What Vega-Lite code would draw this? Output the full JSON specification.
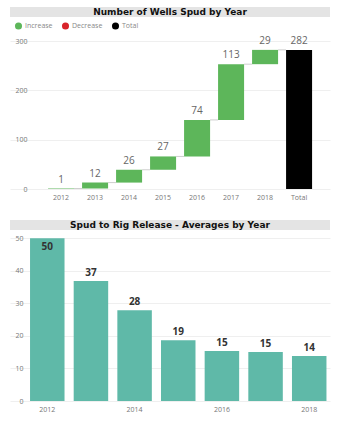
{
  "$schema": "https://vega.github.io/schema/vega-lite/v6.json",
  "padding": {"left": 10, "top": 7, "right": 5, "bottom": 5},
  "background": "white",
  "columns": 1,
  "align": "none",
  "spacing": 4,
  "resolve": {"legend": {"color": "independent"}},
  "config": {
    "font": "Open Sans",
    "view": {"stroke": null},
    "axis": {"labelFont": "Open Sans", "labelFontSize": 7, "labelColor": "#777", "domain": false, "ticks": false, "title": null, "gridColor": "#efefef"}
  },
  "concat": [
    {
      "width": 320,
      "height": 10,
      "view": {"fill": "#e4e4e4", "stroke": null},
      "data": {"values": [{"t": "Number of Wells Spud by Year"}]},
      "mark": {"type": "text", "font": "DejaVu Sans", "fontWeight": "bold", "fontSize": 9, "color": "#111", "baseline": "middle"},
      "encoding": {"text": {"field": "t"}}
    },
    {
      "width": 320,
      "height": 148,
      "data": {"values": [
        {"year": "2012", "amount": 1, "start": 0, "end": 1, "kind": "Increase", "next": "2013"},
        {"year": "2013", "amount": 12, "start": 1, "end": 13, "kind": "Increase", "next": "2014"},
        {"year": "2014", "amount": 26, "start": 13, "end": 39, "kind": "Increase", "next": "2015"},
        {"year": "2015", "amount": 27, "start": 39, "end": 66, "kind": "Increase", "next": "2016"},
        {"year": "2016", "amount": 74, "start": 66, "end": 140, "kind": "Increase", "next": "2017"},
        {"year": "2017", "amount": 113, "start": 140, "end": 253, "kind": "Increase", "next": "2018"},
        {"year": "2018", "amount": 29, "start": 253, "end": 282, "kind": "Increase", "next": "Total"},
        {"year": "Total", "amount": 282, "start": 0, "end": 282, "kind": "Total", "next": null}
      ]},
      "encoding": {
        "x": {"field": "year", "type": "ordinal", "sort": null,
              "scale": {"paddingInner": 0.235, "paddingOuter": 0.8235, "align": 0.68},
              "axis": {"labelAngle": 0, "labelPadding": 4, "grid": false, "minExtent": 27, "maxExtent": 27}}
      },
      "layer": [
        {
          "transform": [{"filter": "datum.next != null"}],
          "mark": {"type": "rule", "color": "#cfcfcf", "strokeWidth": 1},
          "encoding": {
            "x": {"field": "year", "type": "ordinal", "sort": null, "bandPosition": 1},
            "x2": {"field": "next", "bandPosition": 0},
            "y": {"field": "end", "type": "quantitative", "scale": {"domain": [0, 300]},
                  "axis": {"values": [0, 100, 200, 300], "labelPadding": -17, "grid": true, "minExtent": 0, "maxExtent": 0}}
          }
        },
        {
          "mark": {"type": "bar"},
          "encoding": {
            "y": {"field": "start", "type": "quantitative", "scale": {"domain": [0, 300]},
                  "axis": {"values": [0, 100, 200, 300], "labelPadding": -17, "grid": true, "minExtent": 0, "maxExtent": 0}},
            "y2": {"field": "end"},
            "color": {"field": "kind", "type": "nominal",
                      "scale": {"domain": ["Increase", "Decrease", "Total"], "range": ["#5db65a", "#d8232a", "#000000"]},
                      "legend": {"title": null, "orient": "none", "legendX": 4, "legendY": -20, "direction": "horizontal",
                                 "symbolType": "circle", "symbolSize": 50, "labelFontSize": 7, "labelColor": "#888",
                                 "columnPadding": 8, "symbolOffset": 0, "labelOffset": 2, "padding": 0}}
          }
        },
        {
          "mark": {"type": "text", "baseline": "bottom", "dy": -4, "fontSize": 10, "color": "#666", "font": "Open Sans"},
          "encoding": {
            "y": {"field": "end", "type": "quantitative", "scale": {"domain": [0, 300]},
                  "axis": {"values": [0, 100, 200, 300], "labelPadding": -17, "grid": true, "minExtent": 0, "maxExtent": 0}},
            "text": {"field": "amount", "type": "quantitative"}
          }
        }
      ]
    },
    {
      "width": 320,
      "height": 10,
      "view": {"fill": "#e4e4e4", "stroke": null},
      "data": {"values": [{"t": "Spud to Rig Release - Averages by Year"}]},
      "mark": {"type": "text", "font": "DejaVu Sans", "fontWeight": "bold", "fontSize": 9, "color": "#111", "baseline": "middle"},
      "encoding": {"text": {"field": "t"}}
    },
    {
      "width": 320,
      "height": 163,
      "data": {"values": [
        {"year": "2012", "days": 49.9},
        {"year": "2013", "days": 36.8},
        {"year": "2014", "days": 27.8},
        {"year": "2015", "days": 18.6},
        {"year": "2016", "days": 15.3},
        {"year": "2017", "days": 15.0},
        {"year": "2018", "days": 13.8}
      ]},
      "encoding": {
        "x": {"field": "year", "type": "ordinal",
              "scale": {"paddingInner": 0.21, "paddingOuter": 0.27, "align": 0.85},
              "axis": {"labelAngle": 0, "labelPadding": 4, "values": ["2012", "2014", "2016", "2018"], "grid": false}},
        "y": {"field": "days", "type": "quantitative",
              "scale": {"domain": [0, 50]},
              "axis": {"values": [0, 10, 20, 30, 40, 50], "labelPadding": -13, "grid": true, "minExtent": 0, "maxExtent": 0}}
      },
      "layer": [
        {
          "mark": {"type": "bar", "color": "#5fb9a8"}
        },
        {
          "transform": [{"filter": "datum.days < 45"}],
          "mark": {"type": "text", "baseline": "bottom", "dy": -3, "fontSize": 10, "fontWeight": "bold", "color": "#333", "font": "Open Sans"},
          "encoding": {
            "text": {"field": "days", "type": "quantitative", "format": ".0f"}
          }
        },
        {
          "transform": [{"filter": "datum.days >= 45"}],
          "mark": {"type": "text", "baseline": "top", "dy": 4, "fontSize": 10, "fontWeight": "bold", "color": "#333", "font": "Open Sans"},
          "encoding": {
            "text": {"field": "days", "type": "quantitative", "format": ".0f"}
          }
        }
      ]
    }
  ]
}
